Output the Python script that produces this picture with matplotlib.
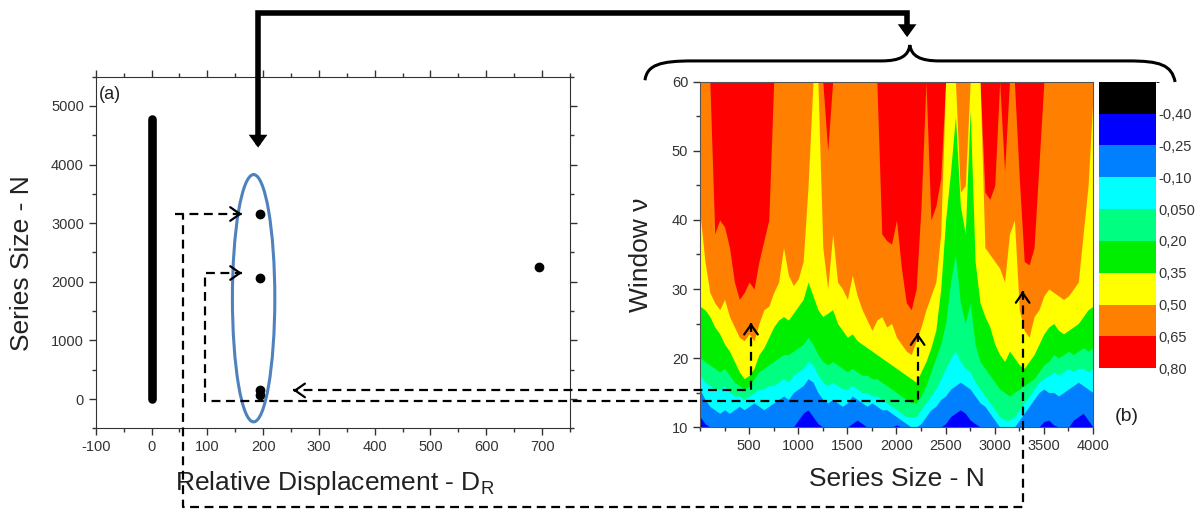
import numpy as np
import matplotlib.pyplot as plt
from matplotlib.patches import Ellipse, FancyArrowPatch, PathPatch
from matplotlib.path import Path
from matplotlib.lines import Line2D
from matplotlib.ticker import MultipleLocator
from matplotlib.colors import ListedColormap, BoundaryNorm
from matplotlib.cm import ScalarMappable

plt.rcParams['font.family'] = ['Liberation Sans', 'DejaVu Sans']
plt.rcParams['mathtext.fontset'] = 'custom'
plt.rcParams['mathtext.rm'] = 'Liberation Sans'
plt.rcParams['axes.unicode_minus'] = False

# ---- panel (a): relative displacement vs series size
zero_dr_n = [0, 4780]                      # dense run of series with D_R = 0
dr_points = [195, 195, 195, 195, 695]
n_points = [3150, 2060, 150, 60, 2260]
group_center = (183, 1720)                 # ellipse round the D_R ~ 190 group
group_width, group_height = 76, 4220

# ---- panel (b): top of each colour band (window v) along the series size
series_n = np.arange(0, 4001, 50)
top_darkblue = [11.5, 10.5, 10, 10, 10, 10, 10, 10, 10, 10,
                10, 10, 10, 10, 10, 10, 10, 10, 10, 10,
                11, 12, 12.5, 11.5, 10.5, 10, 10, 10, 10, 10,
                10, 10.5, 11, 10.5, 10, 10, 10, 10, 10, 10,
                10.3, 10, 10, 10, 10, 10, 10, 10, 10, 10,
                10.5, 11.5, 12, 12.5, 12, 11, 10.5, 10, 10, 10,
                10, 10, 10, 10, 10, 10, 10, 10, 10, 10,
                10.8, 11, 10.3, 10, 10, 10, 11, 11.5, 12, 11,
                10]
top_blue = [15.5, 14, 13, 12.5, 12, 12.5, 12, 12.5, 13, 12.5,
            13, 13.5, 13, 12.5, 13, 13.5, 14, 14.5, 14, 15,
            15.5, 16, 17, 16.5, 15, 14, 13.5, 14, 13.5, 13,
            13.5, 14.5, 14, 13.5, 13, 13.5, 13, 12.5, 12.5, 12,
            11.5, 11, 10.5, 10, 10, 10.5, 11.5, 12.5, 13, 14,
            14.5, 15.5, 16, 16.5, 16, 15.5, 14.5, 13.5, 13, 12,
            11, 10, 10, 10, 10, 11, 12, 13, 14, 15,
            15.5, 15, 15, 14.5, 15, 15.5, 16, 16.5, 16, 15.5,
            15]
top_cyan = [17.5, 16.5, 16, 15.5, 15.5, 16, 15, 14.5, 14.5, 14,
            14.5, 15, 15.5, 15.5, 16, 16, 16.5, 17, 16.5, 17.5,
            18, 18.5, 19.5, 19, 17.5, 16.5, 16, 16.5, 16, 15.5,
            15.5, 16, 15.5, 15, 15, 14.5, 14.5, 14, 13.5, 13,
            12.5, 12, 11.5, 11.5, 11.5, 12.5, 13.5, 14.5, 15.5, 17,
            18.5, 20, 21, 19.5, 18.5, 18, 16.5, 15.5, 14.5, 13.5,
            12.5, 11.5, 11, 11, 11.5, 12.5, 13.5, 14.5, 15.5, 16.5,
            17, 17.5, 18, 17.5, 18, 18.5, 18, 18.5, 18.5, 18,
            18.5]
top_teal = [20, 19.5, 19, 18.5, 18, 18.5, 17.5, 16.5, 16, 15.5,
            16, 17, 18, 18.5, 19, 19.5, 20, 20.5, 20.5, 21,
            21.5, 22, 23, 22, 20.5, 19.5, 19, 19.5, 19, 18.5,
            18, 18.5, 18, 17.5, 17.5, 17, 17, 16.5, 16, 15.5,
            15, 14.5, 14, 13.5, 13.5, 14.5, 16, 18, 20, 22,
            25, 31, 35, 28, 25, 28, 22, 19.5, 18.5, 17.5,
            16.5, 15.5, 15, 14.5, 15, 15.5, 16, 16.5, 17, 18,
            19, 19.5, 20.5, 20, 20.5, 21, 20.5, 21, 21.5, 21,
            21.5]
top_green = [27.5, 27, 26, 24.5, 23.5, 22, 21, 19.5, 18, 17,
             17.5, 18.5, 20.5, 21.5, 23, 24.5, 25.5, 26, 25.5, 26.5,
             27.5, 28.5, 31, 29, 27, 26, 26.5, 27, 25, 24,
             23, 23.5, 22.5, 22, 21.5, 21, 20.5, 20, 19.5, 19,
             18.5, 18, 17.5, 17, 16.5, 18, 19.5, 21.5, 24, 30,
             40, 47, 55, 42, 38, 56, 34, 28, 26, 24.5,
             22, 20.5, 19.5, 21, 20, 19, 18.5, 19.5, 20.5, 22,
             23.5, 24.5, 25, 24, 23.5, 24, 24.5, 25, 26, 27,
             27.5]
top_yellow = [41, 34, 29.5, 28, 27, 28.5, 26, 24.5, 23, 22.5,
              23.5, 22.5, 25, 27, 27.5, 29.5, 31, 36, 32, 30.5,
              31.5, 34, 45, 60, 60, 36, 30, 38, 31, 30,
              28.5, 32, 29, 27, 25.5, 24, 25.5, 26, 24.5, 25,
              23, 22, 21, 20.5, 22.5, 24.5, 27, 29, 31, 38,
              60, 60, 60, 44, 45, 60, 60, 60, 36, 35,
              34, 33, 31, 38, 40, 27, 24, 23, 26, 27,
              29, 30, 29.5, 29, 28.5, 29, 30, 31, 38, 45,
              58]
top_orange = [60, 60, 60, 38, 40, 39, 36, 31, 28.5, 29.5,
              31, 30, 34, 37, 40, 60, 60, 60, 60, 60,
              60, 60, 60, 60, 60, 60, 50, 60, 60, 60,
              60, 60, 60, 60, 60, 60, 60, 38, 37, 36.5,
              40, 33, 28, 27, 30, 42, 60, 40, 42, 46,
              60, 60, 60, 60, 60, 60, 60, 60, 44, 43,
              45, 60, 47, 60, 60, 46, 34, 33.5, 36, 48,
              60, 60, 60, 60, 60, 60, 60, 60, 60, 60,
              60]

level_bounds = [-0.55, -0.40, -0.25, -0.10, 0.05, 0.20, 0.35, 0.50, 0.65, 0.80]
level_colors = ['#000000', '#0000ff', '#0080ff', '#00ffff', '#00ff80',
                '#00ee00', '#ffff00', '#ff8000', '#ff0000']
cbar_labels = ['-0,40', '-0,25', '-0,10', '0,050', '0,20', '0,35', '0,50', '0,65', '0,80']

# connector anchors: (N, tip v, base v) in panel (b), (D_R, N) in panel (a)
arrow_b = [(519, 25.1, 15.3), (2215, 23.6, 13.8), (3284, 29.7, None)]
arrow_a_tips = [(162, 3157), (162, 2150)]

INK = '#333333'
fig = plt.figure(figsize=(12.04, 5.13), dpi=100)

# ---------------- panel (a)
axa = fig.add_axes([0.0795, 0.1651, 0.3939, 0.6854])
axa.plot([0, 0], zero_dr_n, color='k', lw=6.2, solid_capstyle='round', zorder=3)
axa.plot(dr_points, n_points, 'o', color='k', ms=6, zorder=3)
axa.add_patch(Ellipse(group_center, group_width, group_height, fill=False,
                      ec='#4f81bd', lw=2.2, zorder=4))
axa.set_xlim(-100, 750)
axa.set_ylim(-500, 5500)
axa.set_xticks(range(-100, 701, 100))
axa.set_yticks(range(0, 5001, 1000))
axa.xaxis.set_minor_locator(MultipleLocator(50))
axa.yaxis.set_minor_locator(MultipleLocator(500))
axa.tick_params(which='both', direction='out', top=True, right=True,
                labeltop=False, labelright=False, colors=INK, labelsize=10.5, width=1)
axa.tick_params(which='major', length=5)
axa.tick_params(which='minor', length=3)
for s in axa.spines.values():
    s.set_color(INK)
axa.set_ylabel('Series Size - N', fontsize=19, color='#222222', va='center')
axa.yaxis.set_label_coords(-0.155, 0.47)
axa.set_xlabel('Relative Displacement - D$_{\\mathregular{R}}$', fontsize=19,
               color='#222222', va='top')
axa.xaxis.set_label_coords(0.5045, -0.115)
axa.text(0.006, 0.95, '(a)', transform=axa.transAxes, fontsize=13,
         color='#222222', ha='left', va='center')

# ---------------- panel (b)
axb = fig.add_axes([0.5814, 0.1676, 0.3264, 0.6726])
band_tops = [np.full(len(series_n), 60.0), top_orange, top_yellow, top_green,
             top_teal, top_cyan, top_blue, top_darkblue]
for top, c in zip(band_tops, level_colors[::-1]):
    axb.fill_between(series_n, 10, top, color=c, lw=0)
axb.set_xlim(0, 4000)
axb.set_ylim(10, 60)
axb.set_xticks(range(500, 4001, 500))
axb.set_yticks(range(10, 61, 10))
axb.xaxis.set_minor_locator(MultipleLocator(250))
axb.yaxis.set_minor_locator(MultipleLocator(5))
axb.tick_params(which='both', direction='out', colors=INK, labelsize=10.5, width=1)
axb.tick_params(which='major', length=5)
axb.tick_params(which='minor', length=3)
for s in axb.spines.values():
    s.set_color('#555555')
    s.set_linewidth(0.8)
axb.set_ylabel('Window ν', fontsize=19, color='#222222', va='center')
axb.yaxis.set_label_coords(-0.15, 0.5)
axb.set_xlabel('Series Size - N', fontsize=19, color='#222222', va='top')
axb.xaxis.set_label_coords(0.5, -0.115)
fig.text(0.936, 0.189, '(b)', fontsize=14, color='#222222', ha='center', va='center')

# colour scale
cax = fig.add_axes([0.9128, 0.2821, 0.0471, 0.5586])
sm = ScalarMappable(norm=BoundaryNorm(level_bounds, len(level_colors)),
                    cmap=ListedColormap(level_colors))
cb = fig.colorbar(sm, cax=cax, ticks=level_bounds[1:])
cb.ax.invert_yaxis()
cb.set_ticklabels(cbar_labels)
cb.outline.set_visible(False)
cax.tick_params(length=0, labelsize=10.5, colors=INK, pad=2)


# ---------------- connectors (figure fraction)
def to_fig(ax, x, y, axes_coords=False):
    tr = ax.transAxes if axes_coords else ax.transData
    return fig.transFigure.inverted().transform(tr.transform((x, y)))


def dashed(pts):
    xs, ys = zip(*pts)
    fig.add_artist(Line2D(xs, ys, transform=fig.transFigure, color='k', lw=1.6,
                          ls=(0, (4, 2.5)), zorder=10))


def head(tip, dx, dy):
    frm = (tip[0] - dx * 0.002, tip[1] - dy * 0.004)
    fig.add_artist(FancyArrowPatch(frm, tip, transform=fig.transFigure,
                                   arrowstyle='->,head_length=0.5,head_width=0.35',
                                   mutation_scale=14, lw=1.6, color='k',
                                   shrinkA=0, shrinkB=0, zorder=11))


bottom_y = 0.0117

# N ~ 520 -> back to the D_R ~ 190 group near N = 0
n3, tip3, base3 = arrow_b[0]
t = to_fig(axb, n3, tip3)
b = to_fig(axb, n3, base3)
end = (to_fig(axa, 254, 0)[0], b[1])
dashed([t, b, end])
head(t, 0, 1)
head(end, -1, 0)

# N ~ 2200 -> point at N ~ 2060
n2, tip2, base2 = arrow_b[1]
t = to_fig(axb, n2, tip2)
b = to_fig(axb, n2, base2)
ax2 = to_fig(axa, 96, arrow_a_tips[1][1])
dashed([t, b, (ax2[0], b[1]), ax2, to_fig(axa, *arrow_a_tips[1])])
head(t, 0, 1)
head(to_fig(axa, *arrow_a_tips[1]), 1, 0)

# N ~ 3300 -> point at N ~ 3150
n1, tip1, _ = arrow_b[2]
t = to_fig(axb, n1, tip1)
ax1 = to_fig(axa, 57, arrow_a_tips[0][1])
dashed([t, (t[0], bottom_y), (ax1[0], bottom_y), ax1])
dashed([to_fig(axa, 42, arrow_a_tips[0][1]), to_fig(axa, *arrow_a_tips[0])])
head(t, 0, 1)
head(to_fig(axa, *arrow_a_tips[0]), 1, 0)

# thick link from the group to the whole map
left_tip = to_fig(axa, 191, 4290)
right_tip = to_fig(axb, 0.527, 1.13, axes_coords=True)
top_y = 0.9747
link = Path([left_tip, (left_tip[0], top_y), (right_tip[0], top_y), right_tip])
fig.add_artist(FancyArrowPatch(path=link, transform=fig.transFigure,
                               arrowstyle='<|-|>,head_length=0.55,head_width=0.4',
                               mutation_scale=7, lw=4, color='k',
                               joinstyle='miter', zorder=12))

# curly brace over panel (b)
brace = Path([(-0.14, 1.005), (-0.135, 1.05), (-0.1, 1.061), (-0.02, 1.061),
              (0.46, 1.061),
              (0.51, 1.061), (0.53, 1.075), (0.534, 1.107),
              (0.538, 1.075), (0.56, 1.061), (0.61, 1.061),
              (1.09, 1.061),
              (1.17, 1.061), (1.20, 1.05), (1.209, 1.0)],
             [Path.MOVETO, Path.CURVE4, Path.CURVE4, Path.CURVE4,
              Path.LINETO,
              Path.CURVE4, Path.CURVE4, Path.CURVE4,
              Path.CURVE4, Path.CURVE4, Path.CURVE4,
              Path.LINETO,
              Path.CURVE4, Path.CURVE4, Path.CURVE4])
fig.add_artist(PathPatch(brace, transform=axb.transAxes, fill=False, lw=2.2,
                         ec='k', zorder=12))

fig.savefig('out.png', dpi=100)
